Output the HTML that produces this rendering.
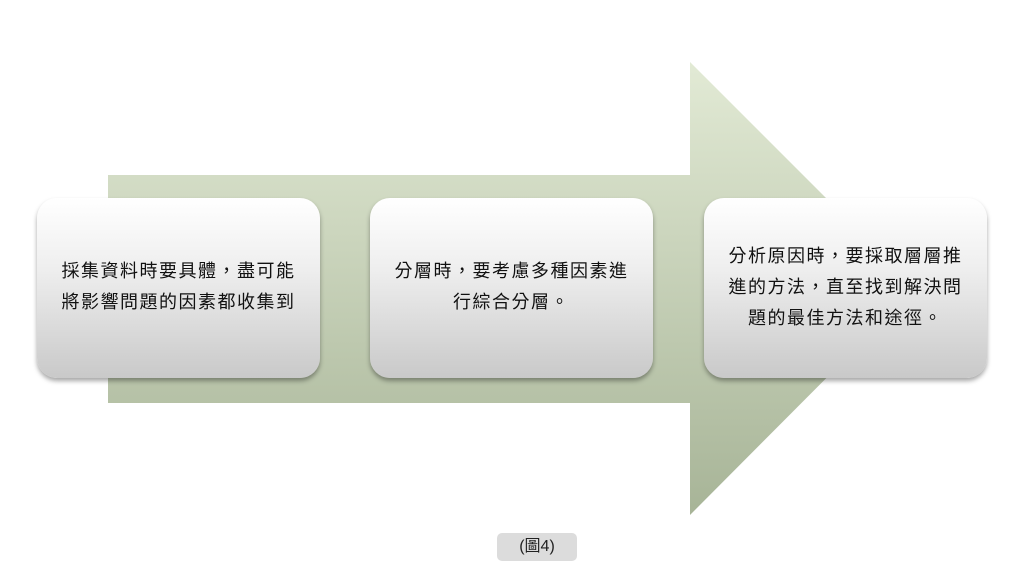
<!DOCTYPE html>
<html><head><meta charset="utf-8"><style>
body{margin:0;width:1024px;height:576px;background:#fff;position:relative;overflow:hidden;font-family:"Liberation Sans","Noto Sans CJK TC",sans-serif;}
.box{position:absolute;top:198px;width:283px;height:180px;border-radius:20px;background:linear-gradient(#ffffff 0%,#eeeeee 40%,#c9c9c9 100%);box-shadow:0 3px 5px rgba(0,0,0,0.35);text-align:center;font-size:18px;line-height:31px;color:#111;box-sizing:border-box;white-space:nowrap;letter-spacing:1.5px;}
.cap{position:absolute;left:497px;top:533px;width:80px;height:28px;border-radius:5px;background:#dcdcdc;font-size:16px;line-height:28px;text-align:center;color:#222;}
</style></head><body>
<svg width="1024" height="576" style="position:absolute;left:0;top:0">
<defs><linearGradient id="g" x1="0" y1="0" x2="0" y2="1"><stop offset="0" stop-color="#e2ead5"/><stop offset="1" stop-color="#a7b497"/></linearGradient></defs>
<polygon points="108,175 690,175 690,62 916,288 690,515 690,403 108,403" fill="url(#g)"/>
</svg>
<div class="box" style="left:37px;padding-top:58px">採集資料時要具體，盡可能<br>將影響問題的因素都收集到</div>
<div class="box" style="left:370px;padding-top:58px">分層時，要考慮多種因素進<br>行綜合分層。</div>
<div class="box" style="left:704px;padding-top:43px">分析原因時，要採取層層推<br>進的方法，直至找到解決問<br>題的最佳方法和途徑。</div>
<div class="cap">(圖4)</div>
</body></html>
